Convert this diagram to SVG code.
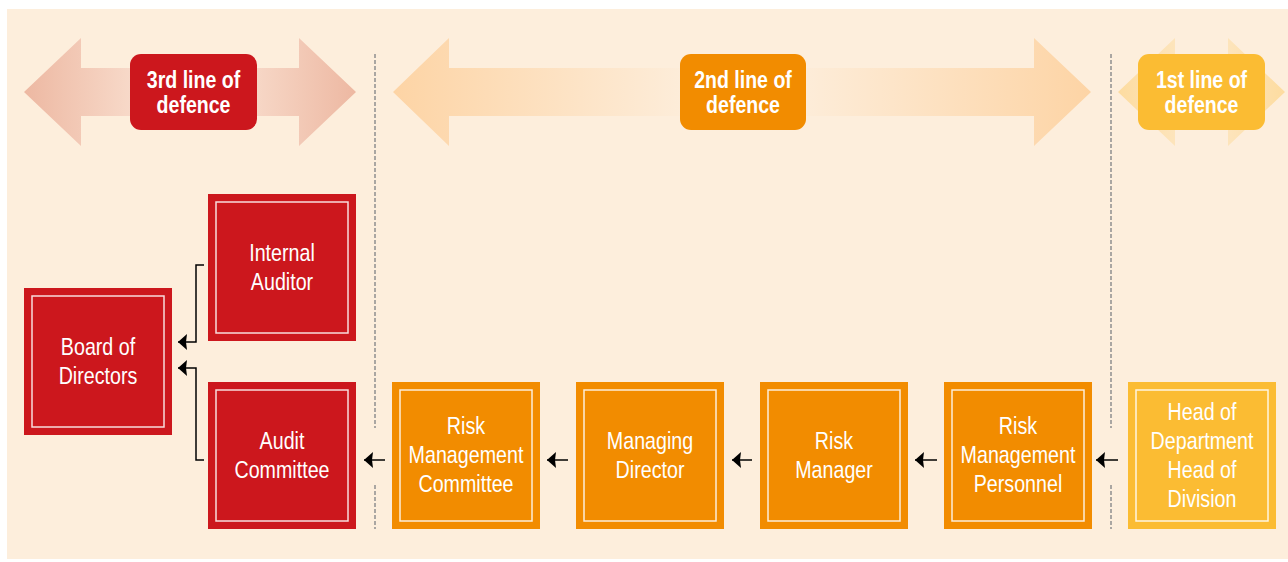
<svg xmlns="http://www.w3.org/2000/svg" width="1288" height="562" viewBox="0 0 1288 562">
<style>
.bg{fill:#FDEEDC}
.red{fill:#CC171D}
.org{fill:#F28C00}
.yel{fill:#FBBC33}
.inner{fill:none;stroke:#FFFFFF;stroke-opacity:0.85;stroke-width:1.5}
.nt{font-family:"Liberation Sans",Arial,sans-serif;font-size:24px;fill:#FFFFFF;text-anchor:middle}
.lt{font-family:"Liberation Sans",Arial,sans-serif;font-size:23px;font-weight:bold;fill:#FFFFFF;text-anchor:middle}
.dash{stroke:#8E8E8E;stroke-width:1.5;stroke-dasharray:4 2;fill:none}
.con{stroke:#000000;stroke-width:1.5;fill:none}
</style>
<defs>
<linearGradient id="g3" gradientUnits="userSpaceOnUse" x1="24" y1="0" x2="356" y2="0">
<stop offset="0" stop-color="#EDB8A2"/>
<stop offset="0.4" stop-color="#FAE1D2"/>
<stop offset="0.6" stop-color="#FAE1D2"/>
<stop offset="1" stop-color="#EDB8A2"/>
</linearGradient>
<linearGradient id="g2" gradientUnits="userSpaceOnUse" x1="393" y1="0" x2="1091" y2="0">
<stop offset="0" stop-color="#FDD4A5"/>
<stop offset="0.42" stop-color="#FDEDDA"/>
<stop offset="0.58" stop-color="#FDEDDA"/>
<stop offset="1" stop-color="#FDD4A5"/>
</linearGradient>
<linearGradient id="g1" gradientUnits="userSpaceOnUse" x1="1118" y1="0" x2="1285" y2="0">
<stop offset="0" stop-color="#FDDCA0"/>
<stop offset="0.5" stop-color="#FDE8C8"/>
<stop offset="1" stop-color="#FDDCA0"/>
</linearGradient>
<marker id="ah" viewBox="0 0 9 16" refX="9" refY="8" markerWidth="9" markerHeight="16" markerUnits="userSpaceOnUse" orient="auto">
<path d="M0,0 L9,8 L0,16 L1,8 z" fill="#000000"/>
</marker>
</defs>
<rect class="bg" x="7" y="9" width="1281" height="550"/>

<g id="lines-of-defence">
<polygon fill="url(#g3)" points="24,92 81,38 81,68 299,68 299,38 356,92 299,146 299,116 81,116 81,146"/>
<polygon fill="url(#g2)" points="393,92 449,38 449,68 1034,68 1034,38 1091,92 1034,146 1034,116 449,116 449,146"/>
<polygon fill="url(#g1)" points="1118,92 1175,38 1175,68 1228,68 1228,38 1285,92 1228,146 1228,116 1175,116 1175,146"/>
</g>

<g id="label3">
<rect class="red" x="130" y="54" width="127" height="76" rx="11"/>
<text class="lt" transform="matrix(0.85 0 0 1 193.5 0)" y="88">3rd line of</text>
<text class="lt" transform="matrix(0.85 0 0 1 193.5 0)" y="113">defence</text>
</g>
<g id="label2">
<rect class="org" x="680" y="54" width="126" height="76" rx="11"/>
<text class="lt" transform="matrix(0.85 0 0 1 743 0)" y="88">2nd line of</text>
<text class="lt" transform="matrix(0.85 0 0 1 743 0)" y="113">defence</text>
</g>
<g id="label1">
<rect class="yel" x="1138" y="54" width="127" height="76" rx="11"/>
<text class="lt" transform="matrix(0.85 0 0 1 1201.5 0)" y="88">1st line of</text>
<text class="lt" transform="matrix(0.85 0 0 1 1201.5 0)" y="113">defence</text>
</g>

<g id="dividers">
<path class="dash" d="M375,54 V428 M375,485 V529"/>
<path class="dash" d="M1111,54 V428 M1111,485 V529"/>
</g>

<g id="board">
<rect class="red" x="24" y="288" width="148" height="147"/>
<rect class="inner" x="32" y="296" width="132" height="131"/>
<text class="nt" transform="matrix(0.82 0 0 1 98 0)" y="355">Board of</text>
<text class="nt" transform="matrix(0.82 0 0 1 98 0)" y="384">Directors</text>
</g>
<g id="internal-auditor">
<rect class="red" x="208" y="194" width="148" height="147"/>
<rect class="inner" x="216" y="202" width="132" height="131"/>
<text class="nt" transform="matrix(0.82 0 0 1 282 0)" y="261">Internal</text>
<text class="nt" transform="matrix(0.82 0 0 1 282 0)" y="290">Auditor</text>
</g>
<g id="audit-committee">
<rect class="red" x="208" y="382" width="148" height="147"/>
<rect class="inner" x="216" y="390" width="132" height="131"/>
<text class="nt" transform="matrix(0.82 0 0 1 282 0)" y="449">Audit</text>
<text class="nt" transform="matrix(0.82 0 0 1 282 0)" y="478">Committee</text>
</g>
<g id="risk-management-committee">
<rect class="org" x="392" y="382" width="148" height="147"/>
<rect class="inner" x="400" y="390" width="132" height="131"/>
<text class="nt" transform="matrix(0.82 0 0 1 466 0)" y="434">Risk</text>
<text class="nt" transform="matrix(0.82 0 0 1 466 0)" y="463">Management</text>
<text class="nt" transform="matrix(0.82 0 0 1 466 0)" y="492">Committee</text>
</g>
<g id="managing-director">
<rect class="org" x="576" y="382" width="148" height="147"/>
<rect class="inner" x="584" y="390" width="132" height="131"/>
<text class="nt" transform="matrix(0.82 0 0 1 650 0)" y="449">Managing</text>
<text class="nt" transform="matrix(0.82 0 0 1 650 0)" y="478">Director</text>
</g>
<g id="risk-manager">
<rect class="org" x="760" y="382" width="148" height="147"/>
<rect class="inner" x="768" y="390" width="132" height="131"/>
<text class="nt" transform="matrix(0.82 0 0 1 834 0)" y="449">Risk</text>
<text class="nt" transform="matrix(0.82 0 0 1 834 0)" y="478">Manager</text>
</g>
<g id="risk-management-personnel">
<rect class="org" x="944" y="382" width="148" height="147"/>
<rect class="inner" x="952" y="390" width="132" height="131"/>
<text class="nt" transform="matrix(0.82 0 0 1 1018 0)" y="434">Risk</text>
<text class="nt" transform="matrix(0.82 0 0 1 1018 0)" y="463">Management</text>
<text class="nt" transform="matrix(0.82 0 0 1 1018 0)" y="492">Personnel</text>
</g>
<g id="head-of-department">
<rect class="yel" x="1128" y="382" width="148" height="147"/>
<rect class="inner" x="1136" y="390" width="132" height="131"/>
<text class="nt" transform="matrix(0.82 0 0 1 1202 0)" y="420">Head of</text>
<text class="nt" transform="matrix(0.82 0 0 1 1202 0)" y="449">Department</text>
<text class="nt" transform="matrix(0.82 0 0 1 1202 0)" y="478">Head of</text>
<text class="nt" transform="matrix(0.82 0 0 1 1202 0)" y="507">Division</text>
</g>

<g id="connectors">
<path class="con" marker-end="url(#ah)" d="M204,265 H196 V342 H178"/>
<path class="con" marker-end="url(#ah)" d="M204,460 H196 V368 H178"/>
<path class="con" marker-end="url(#ah)" d="M385,460 H364"/>
<path class="con" marker-end="url(#ah)" d="M568,460 H547"/>
<path class="con" marker-end="url(#ah)" d="M752,460 H732"/>
<path class="con" marker-end="url(#ah)" d="M937,460 H915"/>
<path class="con" marker-end="url(#ah)" d="M1118,460 H1096"/>
</g>
</svg>
